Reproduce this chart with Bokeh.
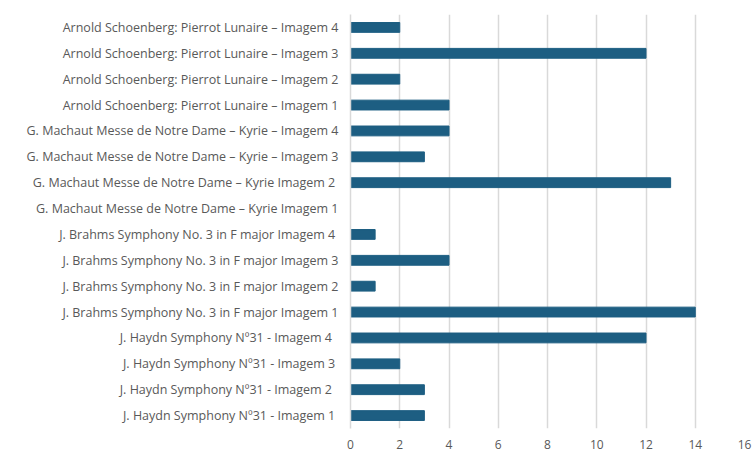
from bokeh.plotting import figure
from bokeh.models import FactorRange, Range1d, FixedTicker
from bokeh.embed import file_html
from bokeh.resources import INLINE

# Categories listed bottom to top, with the counts for each image
labels = [
    "J. Haydn Symphony  Nº31 - Imagem 1",
    "J. Haydn Symphony  Nº31 -  Imagem 2",
    "J. Haydn Symphony  Nº31 - Imagem 3",
    "J. Haydn Symphony  Nº31 -  Imagem 4",
    "J. Brahms Symphony No. 3 in F major Imagem 1",
    "J. Brahms Symphony No. 3 in F major Imagem 2",
    "J. Brahms Symphony No. 3 in F major Imagem 3",
    "J. Brahms Symphony No. 3 in F major  Imagem 4",
    "G. Machaut Messe de Notre Dame – Kyrie Imagem 1",
    "G. Machaut Messe de Notre Dame – Kyrie  Imagem 2",
    "G. Machaut Messe de Notre Dame – Kyrie – Imagem 3",
    "G. Machaut Messe de Notre Dame – Kyrie – Imagem 4",
    "Arnold Schoenberg: Pierrot Lunaire – Imagem 1",
    "Arnold Schoenberg: Pierrot Lunaire – Imagem 2",
    "Arnold Schoenberg: Pierrot Lunaire – Imagem 3",
    "Arnold Schoenberg: Pierrot Lunaire – Imagem 4",
]
counts = [3, 3, 2, 12, 14, 1, 4, 1, 0, 13, 3, 4, 4, 2, 12, 2]
x_ticks = [0, 2, 4, 6, 8, 10, 12, 14, 16]

BAR = "#1D5E82"
GRID = "#D9D9D9"
TEXT = "#595959"
FONT = "Open Sans"

p = figure(
    y_range=FactorRange(factors=labels, range_padding=0),
    x_range=Range1d(0, 16),
    frame_width=394,
    frame_height=414,
    min_border_left=350,
    min_border_top=14,
    min_border_right=9,
    min_border_bottom=26,
    output_backend="svg",
    toolbar_location=None,
)

p.hbar(y=labels, right=counts, left=0, height=0.38, color=BAR)

p.outline_line_color = None
p.background_fill_color = "white"
p.border_fill_color = "white"

p.xgrid.ticker = FixedTicker(ticks=x_ticks)
p.xgrid.grid_line_color = GRID
p.xgrid.grid_line_width = 1.5
p.ygrid.grid_line_color = None

p.xaxis.ticker = FixedTicker(ticks=x_ticks)
p.xaxis.axis_line_color = None
p.xaxis.major_tick_line_color = None
p.xaxis.minor_tick_line_color = None
p.xaxis.major_label_text_color = TEXT
p.xaxis.major_label_text_font = FONT
p.xaxis.major_label_text_font_size = "12px"
p.xaxis.major_label_standoff = 5

p.yaxis.axis_line_color = GRID
p.yaxis.axis_line_width = 1.5
p.yaxis.major_tick_line_color = None
p.yaxis.minor_tick_line_color = None
p.yaxis.major_label_text_color = TEXT
p.yaxis.major_label_text_font = FONT
p.yaxis.major_label_text_font_size = "12.5px"
p.yaxis.major_label_standoff = 6

open("out.html", "w").write(file_html(p, INLINE))
